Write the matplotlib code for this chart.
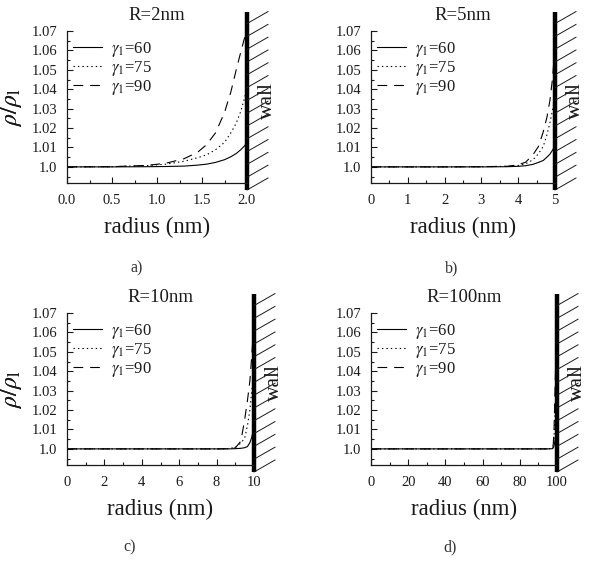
import matplotlib
matplotlib.use('Agg')
import matplotlib.pyplot as plt
from matplotlib.lines import Line2D
from matplotlib.ticker import MultipleLocator, FixedLocator, FixedFormatter

plt.rcParams['font.family'] = ['Liberation Serif', 'DejaVu Serif']
plt.rcParams['mathtext.fontset'] = 'stix'
plt.rcParams['lines.scale_dashes'] = False

# ---------------- data ----------------
series_labels = [r'$\gamma_1$=60', r'$\gamma_1$=75', r'$\gamma_1$=90']
titles = ['R=2nm', 'R=5nm', 'R=10nm', 'R=100nm']
panel_labels = ['a)', 'b)', 'c)', 'd)']
ytick_values = [1.0, 1.01, 1.02, 1.03, 1.04, 1.05, 1.06, 1.07]
ytick_labels = ['1.0', '1.01', '1.02', '1.03', '1.04', '1.05', '1.06', '1.07']

r_a = [0, 0.5, 0.9, 1.1, 1.3, 1.45, 1.55, 1.65, 1.75, 1.82, 1.88, 1.93, 1.97, 2.0]
a60 = [1.0, 1.0, 1.0001, 1.0002, 1.0004, 1.0009, 1.0014, 1.0023, 1.0037, 1.0052, 1.0069, 1.0088, 1.0107, 1.0123]
a75 = [1.0, 1.0001, 1.0007, 1.0014, 1.0029, 1.0047, 1.0062, 1.0088, 1.0126, 1.0175, 1.0225, 1.0285, 1.0350, 1.0405]
a90 = [1.0, 1.0001, 1.0008, 1.0019, 1.0042, 1.0075, 1.0114, 1.0175, 1.0280, 1.0385, 1.0500, 1.0590, 1.0660, 1.0700]

r_b = [0, 1, 2, 3, 3.7, 4.0, 4.2, 4.4, 4.55, 4.68, 4.78, 4.86, 4.93, 4.98, 5.0]
b60 = [1.0, 1.0, 1.0, 1.0, 1.0001, 1.0003, 1.0006, 1.0013, 1.0023, 1.0033, 1.0050, 1.0065, 1.0085, 1.0103, 1.0114]
b75 = [1.0, 1.0, 1.0, 1.0001, 1.0003, 1.0007, 1.0016, 1.0036, 1.0068, 1.0105, 1.0165, 1.0225, 1.0290, 1.0345, 1.0380]
b90 = [1.0, 1.0, 1.0, 1.0001, 1.0003, 1.0011, 1.0024, 1.0062, 1.0105, 1.0180, 1.0255, 1.0340, 1.0450, 1.0570, 1.0640]

r_c = [0, 2, 4, 6, 8, 8.6, 9.0, 9.3, 9.5, 9.65, 9.78, 9.88, 9.95, 10.0]
c60 = [1.0, 1.0, 1.0, 1.0, 1.0, 1.0, 1.0001, 1.0003, 1.0006, 1.0012, 1.0032, 1.0060, 1.0090, 1.0115]
c75 = [1.0, 1.0, 1.0, 1.0, 1.0, 1.0001, 1.0008, 1.0030, 1.0055, 1.0120, 1.0200, 1.0300, 1.0350, 1.0390]
c90 = [1.0, 1.0, 1.0, 1.0, 1.0, 1.0001, 1.0005, 1.0040, 1.0150, 1.0250, 1.0350, 1.0480, 1.0580, 1.0650]

r_d = [0, 20, 40, 60, 80, 95, 97.5, 98.0, 98.4, 98.8, 99.3, 100]
d60 = [1.0, 1.0, 1.0, 1.0, 1.0, 1.0, 1.0001, 1.0005, 1.0015, 1.0035, 1.0070, 1.0110]
d75 = [1.0, 1.0, 1.0, 1.0, 1.0, 1.0, 1.0002, 1.0015, 1.0060, 1.0150, 1.0270, 1.0380]
d90 = [1.0, 1.0, 1.0, 1.0, 1.0, 1.0, 1.0003, 1.0025, 1.0100, 1.0250, 1.0450, 1.0650]

x_max = [2.0, 5, 10, 100]
x_major = [0.5, 1, 2, 20]
x_minor = [0.25, 0.5, 1, 10]

# ---------------- layout ----------------
W, H = 591, 573
fig = plt.figure(figsize=(W / 100, H / 100), dpi=100)

rects = [(67, 31, 247, 183), (371, 31, 555, 183), (67, 313, 254, 465), (371, 313, 557, 465)]
label_pos = [(137, 268), (452, 268), (130, 547), (450, 547)]
data = [(r_a, a60, a75, a90), (r_b, b60, b75, b90), (r_c, c60, c75, c90), (r_d, d60, d75, d90)]

styles = ['-', (0, (1.0, 2.2)), (0, (7, 5))]
ink = '#1a1a1a'

for i in range(4):
    l, t, r, b = rects[i]
    wpx, hpx = r - l, b - t
    ax = fig.add_axes([l / W, (H - b) / H, wpx / W, hpx / H])
    rr, s1, s2, s3 = data[i]
    for ys, st, lab in zip((s1, s2, s3), styles, series_labels):
        ax.plot(rr, ys, color='black', lw=0.8, linestyle=st, label=lab)
    ax.set_xlim(0, x_max[i])
    ax.set_ylim(0.9917, 1.07)
    ax.xaxis.set_major_locator(MultipleLocator(x_major[i]))
    ax.xaxis.set_minor_locator(MultipleLocator(x_minor[i]))
    ax.yaxis.set_major_locator(FixedLocator(ytick_values))
    ax.yaxis.set_major_formatter(FixedFormatter(ytick_labels))
    ax.yaxis.set_minor_locator(MultipleLocator(0.005))
    ax.tick_params(which='both', direction='in', top=False, right=False, colors=ink,
                   labelsize=10.5, width=0.8)
    ax.tick_params(which='major', length=4)
    ax.tick_params(axis='y', which='major', pad=7)
    ax.tick_params(axis='x', which='major', pad=8)
    ax.tick_params(which='minor', length=2.5)
    for sp in ('top', 'right'):
        ax.spines[sp].set_visible(False)
    for sp in ('left', 'bottom'):
        ax.spines[sp].set_linewidth(0.9)
        ax.spines[sp].set_color(ink)

    ax.set_xlabel('radius (nm)', fontsize=16.5, color=ink)
    ax.xaxis.set_label_coords(0.5, -(217 - 183) / hpx)
    ax.set_ylabel(r'$\rho/\rho_{\rm l}$', fontsize=17, color=ink)
    ax.yaxis.set_label_coords(-(l - 24) / wpx, 0.5)
    ax.text(0.5, 1 + 11 / hpx, titles[i], transform=ax.transAxes, ha='center',
            va='baseline', fontsize=13.5, color=ink)

    leg = ax.legend(loc='upper left', bbox_to_anchor=(0.0, 1.0 - 3 / hpx), frameon=False,
                    fontsize=12, handlelength=1.75, handletextpad=0.55,
                    labelspacing=0.0, borderpad=0.35, borderaxespad=0.0)
    for txt in leg.get_texts():
        txt.set_color(ink)

    # wall
    top_ext = 1 + 19 / hpx
    bot_ext = -7 / hpx
    ax.add_line(Line2D([1, 1], [bot_ext, top_ext], transform=ax.transAxes,
                       color='black', lw=3.2, clip_on=False, solid_capstyle='butt'))
    dx, dy = 21 / wpx, 12 / hpx
    n_h = 14
    for k in range(n_h):
        y0 = (-7 + k * 12.8) / hpx
        ax.add_line(Line2D([1, 1 + dx], [y0, y0 + dy], transform=ax.transAxes,
                           color=ink, lw=0.7, clip_on=False))
    ax.text(1 + 20 / wpx, 0.546, 'wall', transform=ax.transAxes, rotation=90,
            ha='center', va='center', fontsize=15.5, color=ink)

    fig.text(label_pos[i][0] / W, 1 - label_pos[i][1] / H, panel_labels[i],
             ha='center', va='center', fontsize=11.5, color='#333333')

fig.savefig('out.png', dpi=100)
